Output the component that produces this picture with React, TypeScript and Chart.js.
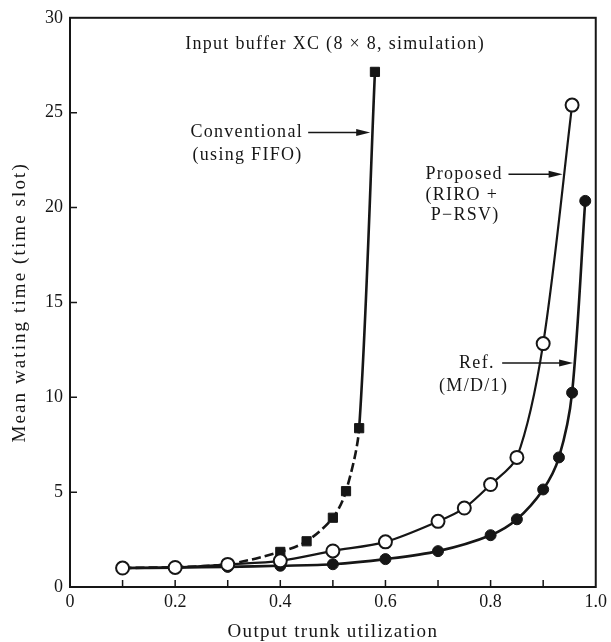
import React, { useEffect, useRef } from 'react';
import { Chart, registerables } from 'chart.js';
Chart.register(...registerables);

// ---- data ----
const convX = [0.1, 0.2, 0.3, 0.4, 0.45, 0.5, 0.525, 0.55, 0.58];
const convY = [1.0, 1.05, 1.2, 1.85, 2.41, 3.65, 5.05, 8.37, 27.15];

const refX = [0.1, 0.2, 0.3, 0.4, 0.5, 0.6, 0.7, 0.8, 0.85, 0.9, 0.93, 0.955, 0.98];
const refY = [1.0, 1.02, 1.06, 1.12, 1.2, 1.47, 1.89, 2.73, 3.57, 5.14, 6.83, 10.24, 20.35];

const propX = [0.1, 0.2, 0.3, 0.4, 0.5, 0.6, 0.7, 0.75, 0.8, 0.85, 0.9, 0.955];
const propY = [1.0, 1.03, 1.19, 1.38, 1.9, 2.38, 3.46, 4.16, 5.4, 6.83, 12.83, 25.4];

const xTitle = 'Output trunk utilization';
const yTitle = 'Mean wating time (time slot)';

// annotation texts (data coordinates)
const notes = [
  { text: 'Input buffer XC (8 \u00d7 8, simulation)', x: 0.219, y: 28.58 },
  { text: 'Conventional', x: 0.229, y: 23.96 },
  { text: '(using FIFO)', x: 0.233, y: 22.76 },
  { text: 'Proposed', x: 0.676, y: 21.76 },
  { text: '(RIRO +', x: 0.676, y: 20.66 },
  { text: 'P\u2212RSV)', x: 0.686, y: 19.61 },
  { text: 'Ref.', x: 0.74, y: 11.81 },
  { text: '(M/D/1)', x: 0.702, y: 10.59 },
];
const arrows = [
  { x1: 0.453, x2: 0.571, y: 23.96 },
  { x1: 0.834, x2: 0.937, y: 21.76 },
  { x1: 0.822, x2: 0.957, y: 11.81 },
];

const FONT = "'Liberation Serif', 'Times New Roman', serif";
const INK = '#161616';

export default function App() {
  const ref = useRef<HTMLCanvasElement>(null);
  useEffect(() => {
    document.body.style.margin = '0';
    const pts = (xs: number[], ys: number[]) => xs.map((x, i) => ({ x, y: ys[i] }));

    const decor = {
      id: 'decor',
      afterDraw(chart: any) {
        const { ctx, chartArea: a } = chart;
        const sx = chart.scales.x;
        const sy = chart.scales.y;
        ctx.save();
        ctx.strokeStyle = INK;
        ctx.fillStyle = INK;
        ctx.lineWidth = 2;
        ctx.strokeRect(a.left, a.top, a.right - a.left, a.bottom - a.top);
        ctx.lineWidth = 1.5;
        ctx.beginPath();
        for (const t of sx.ticks) {
          if (t.value <= 0.001 || t.value >= 0.999) continue;
          const px = sx.getPixelForValue(t.value);
          ctx.moveTo(px, a.bottom);
          ctx.lineTo(px, a.bottom - 7);
        }
        for (const t of sy.ticks) {
          if (t.value <= 0.001 || t.value >= 29.99) continue;
          const py = sy.getPixelForValue(t.value);
          ctx.moveTo(a.left, py);
          ctx.lineTo(a.left + 7, py);
        }
        ctx.stroke();

        // annotations
        ctx.font = `18px ${FONT}`;
        (ctx as any).letterSpacing = '1.3px';
        ctx.textAlign = 'left';
        ctx.textBaseline = 'middle';
        for (const n of notes) {
          ctx.fillText(n.text, sx.getPixelForValue(n.x), sy.getPixelForValue(n.y));
        }
        ctx.lineWidth = 1.5;
        for (const ar of arrows) {
          const x1 = sx.getPixelForValue(ar.x1);
          const x2 = sx.getPixelForValue(ar.x2);
          const py = sy.getPixelForValue(ar.y);
          ctx.beginPath();
          ctx.moveTo(x1, py);
          ctx.lineTo(x2 - 8, py);
          ctx.stroke();
          ctx.beginPath();
          ctx.moveTo(x2, py);
          ctx.lineTo(x2 - 14, py - 3.5);
          ctx.lineTo(x2 - 14, py + 3.5);
          ctx.closePath();
          ctx.fill();
        }

        // axis titles
        ctx.textAlign = 'center';
        ctx.font = `19px ${FONT}`;
        (ctx as any).letterSpacing = '1.3px';
        ctx.fillText(xTitle, (a.left + a.right) / 2, chart.height - 10);
        ctx.save();
        ctx.translate(20, (a.top + a.bottom) / 2);
        ctx.rotate(-Math.PI / 2);
        ctx.font = `19px ${FONT}`;
        (ctx as any).letterSpacing = '2.1px';
        ctx.fillText(yTitle, 0, 0);
        ctx.restore();
        (ctx as any).letterSpacing = '0px';
        ctx.restore();
      },
    };

    const chart = new Chart(ref.current!, {
      type: 'scatter',
      data: {
        datasets: [
          {
            label: 'Proposed (RIRO + P-RSV)',
            data: pts(propX, propY),
            showLine: true,
            order: 0,
            borderColor: INK,
            borderWidth: 2.2,
            pointStyle: 'circle',
            pointRadius: 6.5,
            pointBackgroundColor: '#ffffff',
            pointBorderColor: INK,
            pointBorderWidth: 2,
            tension: 0.3,
          } as any,
          {
            label: 'Ref. (M/D/1)',
            data: pts(refX, refY),
            showLine: true,
            order: 1,
            borderColor: INK,
            borderWidth: 2.6,
            pointStyle: 'circle',
            pointRadius: 5.5,
            pointBackgroundColor: INK,
            pointBorderColor: INK,
            pointBorderWidth: 1,
            tension: 0.3,
          } as any,
          {
            label: 'Conventional (using FIFO)',
            data: pts(convX, convY),
            showLine: true,
            order: 2,
            borderColor: INK,
            borderWidth: 2.6,
            pointStyle: 'rect',
            pointRadius: 6.5,
            pointBackgroundColor: INK,
            pointBorderColor: INK,
            pointBorderWidth: 1,
            tension: 0.3,
            segment: {
              borderDash: (c: any) => (c.p1DataIndex === convX.length - 1 ? [] : [9, 4]),
            },
          } as any,
        ],
      },
      options: {
        animation: false,
        responsive: true,
        maintainAspectRatio: false,
        layout: { padding: { top: 15, right: 11, left: 0, bottom: 0 } },
        plugins: { legend: { display: false }, tooltip: { enabled: false } },
        scales: {
          x: {
            type: 'linear',
            min: 0,
            max: 1,
            grid: { display: false, drawTicks: false },
            border: { display: false },
            ticks: {
              stepSize: 0.1,
              autoSkip: false,
              maxRotation: 0,
              padding: 4,
              color: INK,
              font: { family: FONT, size: 18 },
              callback: (v: any) => {
                const k = Math.round(Number(v) * 10);
                if (k % 2 !== 0) return '';
                return k === 0 ? '0' : (k / 10).toFixed(1);
              },
            },
            afterFit: (s: any) => { s.height = 55; },
          },
          y: {
            type: 'linear',
            min: 0,
            max: 30,
            grid: { display: false, drawTicks: false },
            border: { display: false },
            ticks: {
              stepSize: 5,
              padding: 7,
              color: INK,
              font: { family: FONT, size: 18 },
            },
            afterFit: (s: any) => { s.width = 70; },
          },
        },
      },
      plugins: [decor],
    });
    return () => chart.destroy();
  }, []);

  return (
    <div style={{ position: 'relative', width: 611, height: 642, background: '#fff' }}>
      <canvas ref={ref} />
    </div>
  );
}
